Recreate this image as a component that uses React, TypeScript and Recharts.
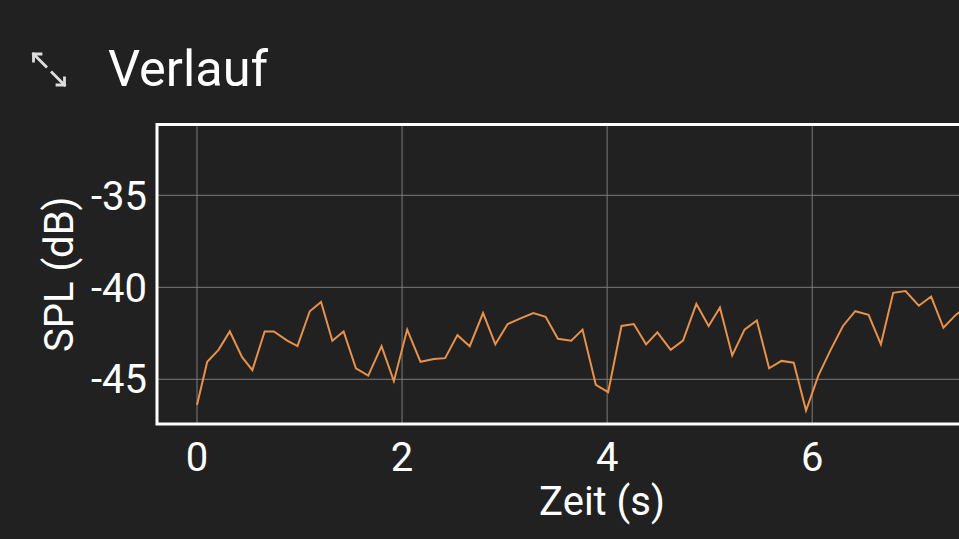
import { LineChart, Line, XAxis, YAxis, CartesianGrid, ReferenceArea } from "recharts";

// time stamps (s) and level (dB)
const times = [
  0.0, 0.1, 0.21, 0.32, 0.44, 0.54, 0.66, 0.75, 0.88, 0.98,
  1.1, 1.21, 1.32, 1.43, 1.55, 1.67, 1.8, 1.92, 2.05, 2.18,
  2.31, 2.42, 2.54, 2.66, 2.79, 2.91, 3.03, 3.15, 3.28, 3.4,
  3.52, 3.65, 3.76, 3.89, 4.01, 4.14, 4.26, 4.38, 4.49, 4.62,
  4.74, 4.87, 4.99, 5.1, 5.22, 5.34, 5.46, 5.58, 5.7, 5.82,
  5.94, 6.06, 6.18, 6.3, 6.42, 6.55, 6.67, 6.79, 6.91, 7.04,
  7.16, 7.28, 7.4, 7.52,
];
const spl = [
  -46.4, -44.05, -43.4, -42.4, -43.8, -44.5, -42.4, -42.4, -42.9, -43.2,
  -41.3, -40.8, -42.9, -42.4, -44.4, -44.8, -43.2, -45.1, -42.3, -44.05,
  -43.9, -43.85, -42.6, -43.2, -41.4, -43.1, -42.0, -41.7, -41.4, -41.6,
  -42.8, -42.9, -42.3, -45.3, -45.7, -42.1, -42.0, -43.1, -42.45, -43.4,
  -42.9, -40.9, -42.1, -41.1, -43.7, -42.3, -41.8, -44.4, -44.0, -44.1,
  -46.7, -44.8, -43.4, -42.1, -41.3, -41.5, -43.1, -40.3, -40.2, -41.0,
  -40.5, -42.2, -41.5, -41.0,
];
const xTicks = [0, 2, 4, 6];
const yTicks = [-45, -40, -35];
const xDomain: [number, number] = [-0.39, 8.29];
const yDomain: [number, number] = [-47.43, -31.15];

const data = times.map((t, i) => ({ t, spl: spl[i] }));

const font = "Roboto, sans-serif";
const tickStyle = { fill: "#ffffff", fontSize: 40, fontFamily: font };

export default function App() {
  return (
    <div
      style={{
        position: "fixed",
        left: 0,
        top: 0,
        width: 959,
        height: 539,
        overflow: "hidden",
        background: "#212121",
      }}
    >
      <svg width={959} height={110} style={{ position: "absolute", left: 0, top: 0 }}>
        <g stroke="#dddddd" strokeWidth={2.8} fill="none" strokeLinecap="square">
          <path d="M33.5 54 L46 66.5" />
          <path d="M33.5 54 H41 M33.5 54 V61" />
          <path d="M52 72.5 L64.5 85" />
          <path d="M64.5 85 H57 M64.5 85 V78" />
        </g>
        <text x={108} y={86} fill="#ffffff" fontSize={50.5} fontFamily={font}>
          Verlauf
        </text>
      </svg>
      <div style={{ position: "absolute", left: 0, top: 0 }}>
        <LineChart
          width={1100}
          height={539}
          data={data}
          margin={{ top: 124.5, right: 53, left: 0, bottom: 0 }}
        >
          <CartesianGrid stroke="#7c7c7c" strokeWidth={1} />
          <XAxis
            dataKey="t"
            type="number"
            domain={xDomain}
            ticks={xTicks}
            allowDataOverflow
            height={115}
            axisLine={false}
            tickLine={false}
            tickSize={17}
            tick={tickStyle}
            label={{
              value: "Zeit (s)",
              position: "insideBottom",
              offset: 24,
              fill: "#ffffff",
              fontSize: 40,
              fontFamily: font,
            }}
          />
          <YAxis
            type="number"
            domain={yDomain}
            ticks={yTicks}
            allowDataOverflow
            width={157}
            axisLine={false}
            tickLine={false}
            tickSize={8}
            tick={tickStyle}
            label={{
              value: "SPL (dB)",
              position: "insideLeft",
              angle: -90,
              offset: 59,
              fill: "#ffffff",
              fontSize: 40,
              fontFamily: font,
              style: { textAnchor: "middle" },
            }}
          />
          <ReferenceArea
            x1={xDomain[0]}
            x2={xDomain[1]}
            y1={yDomain[0]}
            y2={yDomain[1]}
            fill="none"
            stroke="#ffffff"
            strokeWidth={3}
            fillOpacity={0}
          />
          <Line
            type="linear"
            dataKey="spl"
            stroke="#e8914b"
            strokeWidth={2}
            dot={false}
            isAnimationActive={false}
          />
        </LineChart>
      </div>
    </div>
  );
}
